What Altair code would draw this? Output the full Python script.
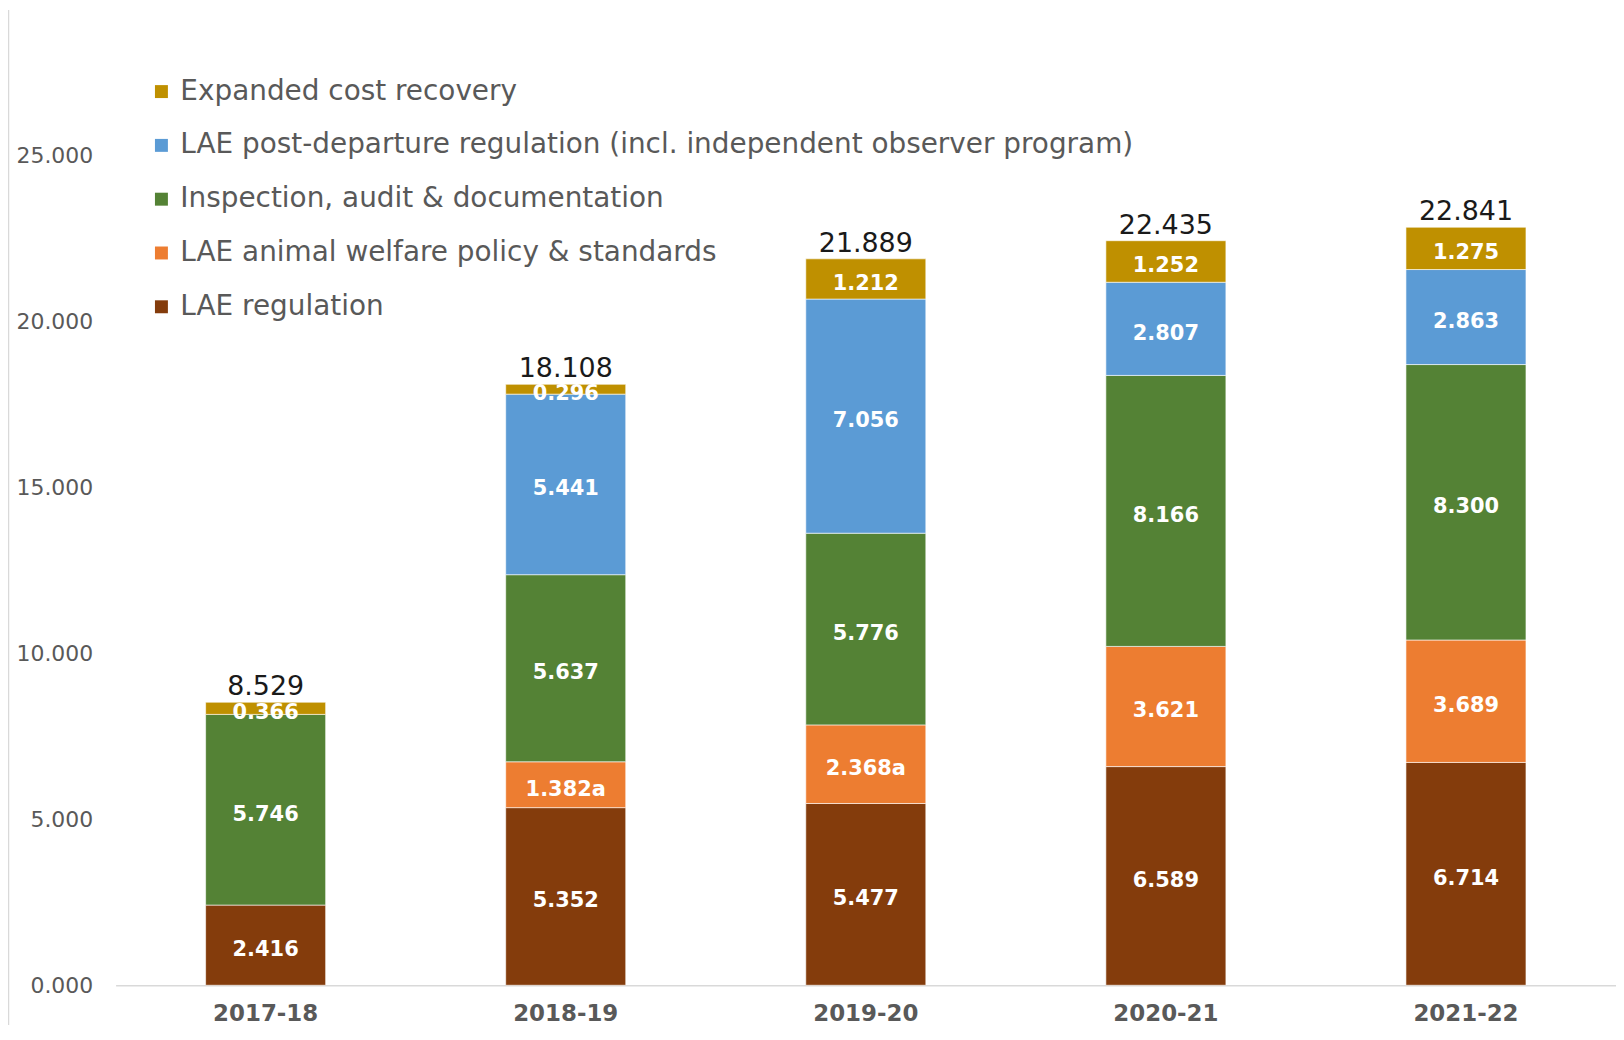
import altair as alt
import pandas as pd

YEARS = ["2017-18", "2018-19", "2019-20", "2020-21", "2021-22"]
SERIES = [
    "LAE regulation",
    "LAE animal welfare policy & standards",
    "Inspection, audit & documentation",
    "LAE post-departure regulation (incl. independent observer program)",
    "Expanded cost recovery",
]
LAE_REG = [2.416, 5.352, 5.477, 6.589, 6.714]
WELFARE = [None, 1.382, 2.368, 3.621, 3.689]
INSPECTION = [5.746, 5.637, 5.776, 8.166, 8.300]
POSTDEP = [None, 5.441, 7.056, 2.807, 2.863]
EXPANDED = [0.366, 0.296, 1.212, 1.252, 1.275]
WELFARE_NOTE = ["", "a", "a", "", ""]
TOTALS = [8.529, 18.108, 21.889, 22.435, 22.841]
Y_TICKS = [0, 5, 10, 15, 20, 25]
COLORS = ["#843C0C", "#ED7D31", "#548235", "#5B9BD5", "#BF9000"]

SERIES_VALUES = [LAE_REG, WELFARE, INSPECTION, POSTDEP, EXPANDED]
rows = []
for si, (name, vals) in enumerate(zip(SERIES, SERIES_VALUES)):
    for yi, (yr, v) in enumerate(zip(YEARS, vals)):
        if v is None:
            continue
        note = WELFARE_NOTE[yi] if vals is WELFARE else ""
        rows.append({"year": yr, "series": name, "value": v, "stack_order": si,
                     "label": f"{v:.3f}{note}"})
df = pd.DataFrame(rows)
df_tot = pd.DataFrame({"year": YEARS, "total": TOTALS})

legend_domain = SERIES[::-1]
legend_range = COLORS[::-1]

x_enc = alt.X("year:N", sort=YEARS,
              scale=alt.Scale(paddingInner=0.6, paddingOuter=0.3),
              axis=alt.Axis(title=None, labelAngle=0, labelFont="DejaVu Sans",
                            labelFontWeight="bold", labelFontSize=23,
                            labelColor="#595959", ticks=False, tickSize=0,
                            labelPadding=17, domain=True, domainColor="#d9d9d9",
                            domainWidth=1.5))
y_scale = alt.Scale(domain=[0, 29.33], nice=False, zero=True)

bars = alt.Chart(df).mark_bar(stroke="white", strokeWidth=0.6).encode(
    x=x_enc,
    y=alt.Y("value:Q", stack="zero", scale=y_scale,
            axis=alt.Axis(title=None, values=Y_TICKS, format=".3f",
                          labelFont="DejaVu Sans", labelFontSize=22,
                          labelColor="#595959", ticks=False, tickSize=0,
                          domain=False, grid=False, labelPadding=23)),
    color=alt.Color("series:N",
                    scale=alt.Scale(domain=legend_domain, range=legend_range),
                    legend=alt.Legend(orient="none", legendX=32, legendY=66,
                                      title=None, symbolType="square",
                                      symbolSize=169, symbolStrokeWidth=0,
                                      labelFont="DejaVu Sans", labelFontSize=28,
                                      labelColor="#595959", rowPadding=26,
                                      labelOffset=5, padding=0,
                                      labelLimit=1400)),
    order=alt.Order("stack_order:Q", sort="ascending"),
)

seg_labels = alt.Chart(df).transform_stack(
    stack="value", groupby=["year"],
    sort=[alt.SortField("stack_order", order="ascending")],
    as_=["y0", "y1"],
).transform_calculate(
    mid="(datum.y0 + datum.y1) / 2"
).mark_text(font="DejaVu Sans", fontWeight="bold", fontSize=21,
            color="white", baseline="middle", dy=5).encode(
    x=alt.X("year:N", sort=YEARS),
    y=alt.Y("mid:Q", scale=y_scale),
    text="label:N",
)

totals = alt.Chart(df_tot).mark_text(font="DejaVu Sans", fontSize=27,
                                     color="#1a1a1a", baseline="bottom",
                                     dy=-1).encode(
    x=alt.X("year:N", sort=YEARS),
    y=alt.Y("total:Q", scale=y_scale),
    text=alt.Text("total:Q", format=".3f"),
)

border = alt.Chart(pd.DataFrame({"a": [0]})).mark_rule(
    color="#d9d9d9", strokeWidth=1.5).encode(
    x=alt.value(-107.5), y=alt.value(-2), y2=alt.value(1035))

chart = alt.layer(bars, seg_labels, totals, border).properties(
    width=1506, height=977,
    autosize=alt.AutoSizeParams(type="none"),
    padding={"left": 108, "top": 2, "right": 0, "bottom": 38},
).configure_view(stroke=None)

chart.save("out.html", embed_options={"renderer": "svg", "actions": False})
